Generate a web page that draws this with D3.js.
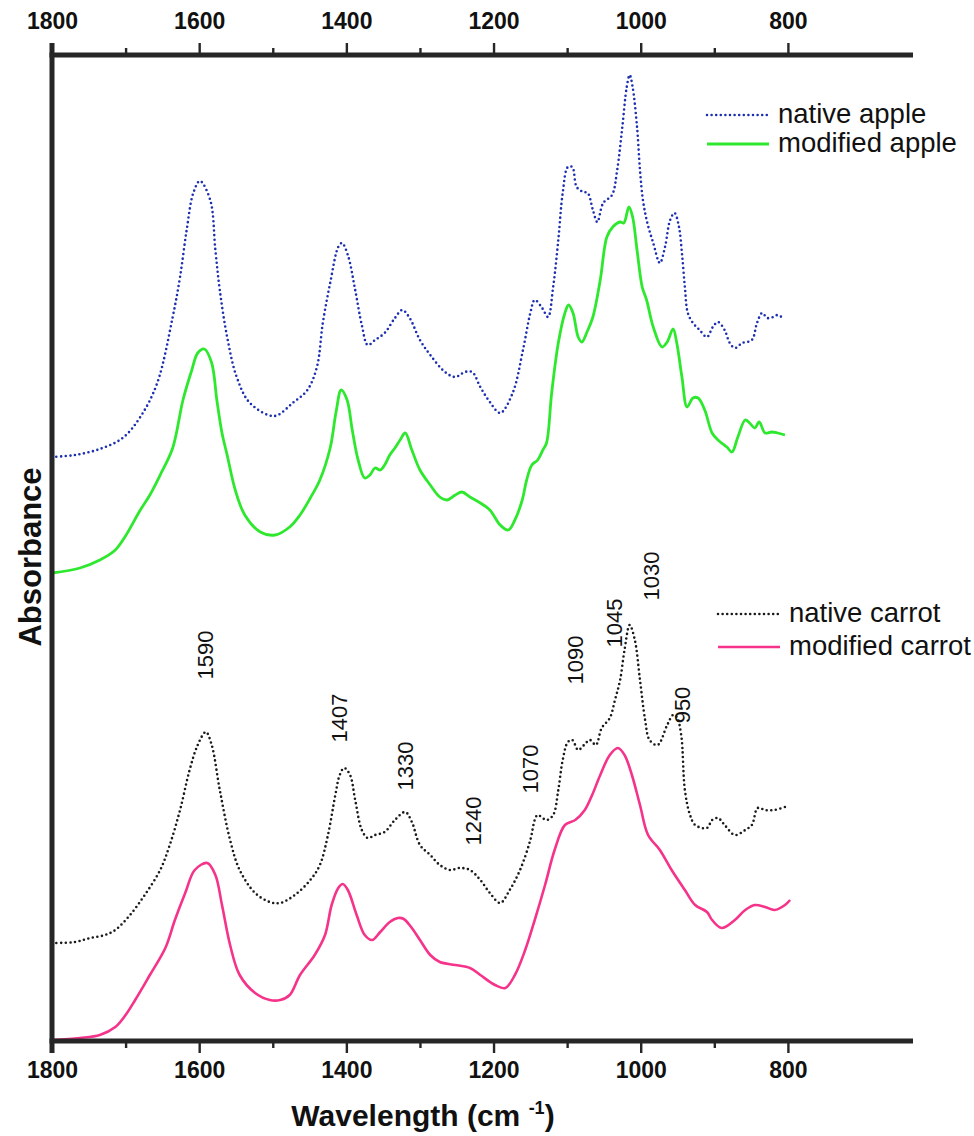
<!DOCTYPE html>
<html>
<head>
<meta charset="utf-8">
<script src="https://cdn.jsdelivr.net/npm/d3@7"></script>
<style>
  html, body { margin: 0; padding: 0; background: #fff; }
  svg { display: block; font-family: "Liberation Sans", Arial, sans-serif; }
</style>
</head>
<body>
<svg id="chart" width="974" height="1136"></svg>
<script>
// FTIR spectra: [wavenumber (cm-1), absorbance (a.u., offset for stacking)]
const nativeApple = [
  [1800,0.583],[1769,0.585],[1735,0.591],[1704,0.602],[1680,0.623],[1657,0.657],[1636,0.723],
  [1626,0.763],[1617,0.810],[1608,0.847],[1599,0.859],[1585,0.840],[1578,0.790],[1572,0.750],
  [1562,0.703],[1549,0.663],[1531,0.637],[1498,0.624],[1473,0.637],[1453,0.650],[1440,0.673],
  [1432,0.717],[1422,0.757],[1411,0.793],[1406,0.797],[1398,0.785],[1388,0.750],[1379,0.715],
  [1371,0.695],[1361,0.700],[1348,0.707],[1334,0.722],[1324,0.730],[1314,0.722],[1300,0.700],
  [1286,0.685],[1266,0.668],[1252,0.663],[1239,0.668],[1229,0.668],[1218,0.653],[1205,0.638],
  [1191,0.627],[1174,0.647],[1160,0.690],[1150,0.727],[1144,0.740],[1134,0.732],[1126,0.723],
  [1119,0.753],[1112,0.800],[1106,0.847],[1099,0.873],[1093,0.873],[1087,0.853],[1078,0.848],
  [1072,0.847],[1065,0.830],[1059,0.818],[1051,0.837],[1039,0.845],[1032,0.870],[1025,0.913],
  [1019,0.953],[1015,0.965],[1011,0.953],[1005,0.913],[1001,0.870],[997,0.840],[991,0.817],
  [983,0.797],[974,0.777],[967,0.793],[960,0.820],[954,0.827],[948,0.813],[944,0.787],
  [940,0.753],[936,0.727],[929,0.717],[920,0.710],[910,0.703],[902,0.713],[895,0.718],
  [886,0.710],[879,0.697],[872,0.692],[862,0.697],[849,0.700],[842,0.717],[835,0.727],
  [828,0.722],[820,0.723],[814,0.725],[807,0.722]
];

const modifiedApple = [
  [1800,0.467],[1762,0.472],[1735,0.480],[1714,0.490],[1701,0.503],[1680,0.530],[1667,0.545],
  [1653,0.565],[1636,0.592],[1622,0.640],[1610,0.670],[1602,0.687],[1593,0.691],[1583,0.677],
  [1576,0.640],[1569,0.607],[1562,0.585],[1551,0.550],[1538,0.525],[1517,0.508],[1497,0.505],
  [1477,0.513],[1463,0.525],[1449,0.542],[1436,0.560],[1422,0.592],[1414,0.628],[1407,0.650],
  [1399,0.640],[1392,0.610],[1384,0.580],[1375,0.562],[1368,0.565],[1361,0.572],[1354,0.570],
  [1348,0.575],[1341,0.585],[1334,0.592],[1327,0.600],[1320,0.607],[1311,0.590],[1300,0.570],
  [1286,0.555],[1273,0.543],[1263,0.540],[1252,0.545],[1243,0.548],[1232,0.543],[1218,0.537],
  [1205,0.530],[1191,0.515],[1180,0.510],[1171,0.520],[1161,0.540],[1155,0.560],[1148,0.575],
  [1140,0.580],[1133,0.590],[1128,0.597],[1121,0.647],[1112,0.697],[1103,0.727],[1098,0.735],
  [1092,0.727],[1085,0.703],[1080,0.698],[1073,0.708],[1065,0.723],[1055,0.760],[1046,0.803],
  [1038,0.813],[1028,0.818],[1023,0.817],[1016,0.833],[1011,0.823],[1005,0.790],[998,0.753],
  [992,0.740],[983,0.713],[971,0.693],[964,0.698],[956,0.711],[951,0.697],[944,0.663],
  [937,0.633],[929,0.642],[922,0.642],[913,0.630],[903,0.607],[895,0.600],[883,0.593],
  [876,0.588],[868,0.603],[858,0.620],[852,0.617],[845,0.612],[839,0.618],[831,0.607],
  [822,0.608],[814,0.607],[804,0.605]
];

const nativeCarrot = [
  [1800,0.097],[1769,0.098],[1748,0.102],[1728,0.105],[1714,0.110],[1694,0.125],[1674,0.145],
  [1653,0.170],[1640,0.195],[1626,0.230],[1613,0.270],[1602,0.295],[1591,0.308],[1583,0.295],
  [1572,0.250],[1558,0.200],[1545,0.170],[1524,0.147],[1504,0.138],[1490,0.137],[1470,0.145],
  [1449,0.160],[1436,0.175],[1425,0.205],[1415,0.245],[1409,0.265],[1403,0.272],[1395,0.265],
  [1388,0.240],[1379,0.210],[1371,0.202],[1361,0.205],[1348,0.208],[1334,0.220],[1320,0.228],
  [1311,0.218],[1300,0.195],[1286,0.185],[1273,0.175],[1259,0.170],[1246,0.172],[1232,0.170],
  [1218,0.160],[1205,0.147],[1191,0.137],[1178,0.150],[1164,0.170],[1150,0.200],[1144,0.220],
  [1140,0.225],[1128,0.220],[1119,0.225],[1112,0.250],[1106,0.280],[1099,0.298],[1093,0.300],
  [1085,0.290],[1077,0.295],[1069,0.300],[1061,0.295],[1053,0.312],[1042,0.322],[1035,0.340],
  [1028,0.360],[1022,0.390],[1015,0.415],[1008,0.400],[1001,0.360],[994,0.320],[988,0.300],
  [977,0.295],[964,0.315],[956,0.325],[951,0.323],[945,0.305],[940,0.250],[933,0.225],
  [926,0.215],[910,0.212],[903,0.220],[895,0.222],[886,0.215],[872,0.205],[858,0.210],
  [849,0.215],[841,0.232],[831,0.230],[818,0.230],[804,0.233]
];

const modifiedCarrot = [
  [1800,0.000],[1762,0.002],[1735,0.005],[1714,0.013],[1701,0.024],[1687,0.040],[1667,0.065],
  [1646,0.092],[1633,0.120],[1619,0.147],[1606,0.170],[1589,0.177],[1578,0.165],[1569,0.135],
  [1558,0.095],[1545,0.065],[1524,0.047],[1504,0.040],[1490,0.040],[1477,0.045],[1463,0.065],
  [1443,0.085],[1429,0.105],[1420,0.135],[1411,0.152],[1405,0.156],[1398,0.150],[1386,0.125],
  [1375,0.105],[1365,0.100],[1354,0.108],[1341,0.118],[1330,0.122],[1322,0.121],[1312,0.113],
  [1300,0.100],[1286,0.085],[1273,0.078],[1252,0.075],[1232,0.072],[1218,0.065],[1198,0.055],
  [1184,0.052],[1171,0.065],[1157,0.090],[1144,0.120],[1130,0.155],[1117,0.190],[1103,0.215],
  [1089,0.220],[1076,0.230],[1066,0.245],[1055,0.265],[1042,0.285],[1031,0.292],[1022,0.285],
  [1012,0.265],[1001,0.235],[990,0.205],[974,0.190],[958,0.170],[940,0.150],[926,0.135],
  [910,0.128],[903,0.120],[890,0.112],[872,0.120],[858,0.130],[845,0.135],[831,0.133],
  [818,0.130],[804,0.135],[797,0.140]
];

// Band assignments: label text, placed at [wavenumber, absorbance] (label centre)
const bandLabels = ["1590", "1407", "1330", "1240", "1070", "1090", "1045", "1030", "950"];
const bandLabelAt = [
  [1592,0.385],[1409,0.322],[1320,0.274],[1227,0.219],[1150,0.271],
  [1089,0.380],[1035,0.417],[985,0.464],[943,0.335]
];

const majorTicks = [1800, 1600, 1400, 1200, 1000, 800];
const minorTicks = [1700, 1500, 1300, 1100, 900];

const seriesNames = ["native apple", "modified apple", "native carrot", "modified carrot"];

const svg = d3.select("#chart");
const frame = { left: 52, right: 913, top: 55, bottom: 1041 };

const x = d3.scaleLinear().domain([1800, 630]).range([frame.left, frame.right]);
const y = d3.scaleLinear().domain([0, 0.985]).range([1040, frame.top]);

const line = d3.line()
  .x(d => x(d[0]))
  .y(d => y(d[1]))
  .curve(d3.curveCatmullRom.alpha(0.5));

const styles = [
  { data: nativeApple,    color: "#1c2fb0", width: 2.6, dash: "0 4.6", cap: "round" },
  { data: modifiedApple,  color: "#2ee82e", width: 2.8, dash: null,    cap: "butt" },
  { data: nativeCarrot,   color: "#1a1a1a", width: 2.6, dash: "0 4.6", cap: "round" },
  { data: modifiedCarrot, color: "#f5338a", width: 2.6, dash: null,    cap: "butt" }
];

const plot = svg.append("g");
styles.forEach(s => {
  plot.append("path")
    .datum(s.data)
    .attr("d", line)
    .attr("fill", "none")
    .attr("stroke", s.color)
    .attr("stroke-width", s.width)
    .attr("stroke-linecap", s.cap)
    .attr("stroke-linejoin", "round")
    .attr("stroke-dasharray", s.dash);
});

// Axes: thick frame lines on top, bottom and left
const axisColor = "#262626";
function styleAxis(g) {
  g.select(".domain").remove();
  g.selectAll(".tick line").attr("stroke", axisColor).attr("stroke-width", 2.4);
  g.selectAll(".tick text")
    .attr("fill", "#111")
    .style("font-size", "23px")
    .style("font-weight", "bold")
    .style("font-family", "'Liberation Sans', Arial, sans-serif");
}

// bottom axis
svg.append("g").attr("transform", `translate(0,${frame.bottom})`)
  .call(d3.axisBottom(x).tickValues(minorTicks).tickSize(7).tickFormat(""))
  .call(styleAxis);
svg.append("g").attr("transform", `translate(0,${frame.bottom})`)
  .call(d3.axisBottom(x).tickValues(majorTicks).tickSize(12).tickPadding(9).tickFormat(d3.format("d")))
  .call(styleAxis);

// top axis
svg.append("g").attr("transform", `translate(0,${frame.top})`)
  .call(d3.axisTop(x).tickValues(minorTicks).tickSize(7).tickFormat(""))
  .call(styleAxis);
svg.append("g").attr("transform", `translate(0,${frame.top})`)
  .call(d3.axisTop(x).tickValues(majorTicks).tickSize(12).tickPadding(14).tickFormat(d3.format("d")))
  .call(styleAxis);

svg.append("line").attr("x1", frame.left - 2.5).attr("x2", frame.right).attr("y1", frame.top).attr("y2", frame.top)
  .attr("stroke", axisColor).attr("stroke-width", 5);
svg.append("line").attr("x1", frame.left - 2.5).attr("x2", frame.right).attr("y1", frame.bottom).attr("y2", frame.bottom)
  .attr("stroke", axisColor).attr("stroke-width", 5);
svg.append("line").attr("x1", frame.left).attr("x2", frame.left).attr("y1", frame.top - 12).attr("y2", frame.bottom + 12)
  .attr("stroke", axisColor).attr("stroke-width", 5);

// axis titles
svg.append("text")
  .attr("transform", `translate(30,557) rotate(-90)`)
  .attr("text-anchor", "middle")
  .attr("dominant-baseline", "central")
  .style("font-size", "31px").style("font-weight", "bold").attr("fill", "#111")
  .text("Absorbance");

const xt = svg.append("text")
  .attr("x", 423).attr("y", 1126)
  .attr("text-anchor", "middle")
  .style("font-size", "30px").style("font-weight", "bold").attr("fill", "#111");
xt.append("tspan").text("Wavelength (cm ");
xt.append("tspan").attr("dy", -12).style("font-size", "18px").text("-1");
xt.append("tspan").attr("dy", 12).text(")");

// band labels
svg.append("g").selectAll("text")
  .data(bandLabels)
  .join("text")
  .attr("transform", (d, i) => `translate(${x(bandLabelAt[i][0])},${y(bandLabelAt[i][1])}) rotate(-90)`)
  .attr("text-anchor", "middle")
  .attr("dominant-baseline", "central")
  .style("font-size", "22px")
  .attr("fill", "#111")
  .text(d => d);

// legends
const legendPos = [
  { x: 707, y: 115 }, { x: 707, y: 144 },
  { x: 718, y: 614 }, { x: 718, y: 647 }
];
styles.forEach((s, i) => {
  const p = legendPos[i];
  svg.append("line")
    .attr("x1", p.x).attr("x2", p.x + 62).attr("y1", p.y).attr("y2", p.y)
    .attr("stroke", s.color).attr("stroke-width", s.width)
    .attr("stroke-linecap", s.cap).attr("stroke-dasharray", s.dash);
  svg.append("text")
    .attr("x", p.x + 71).attr("y", p.y + 8)
    .style("font-size", "27.5px").attr("fill", "#111")
    .text(seriesNames[i]);
});
</script>
</body>
</html>
